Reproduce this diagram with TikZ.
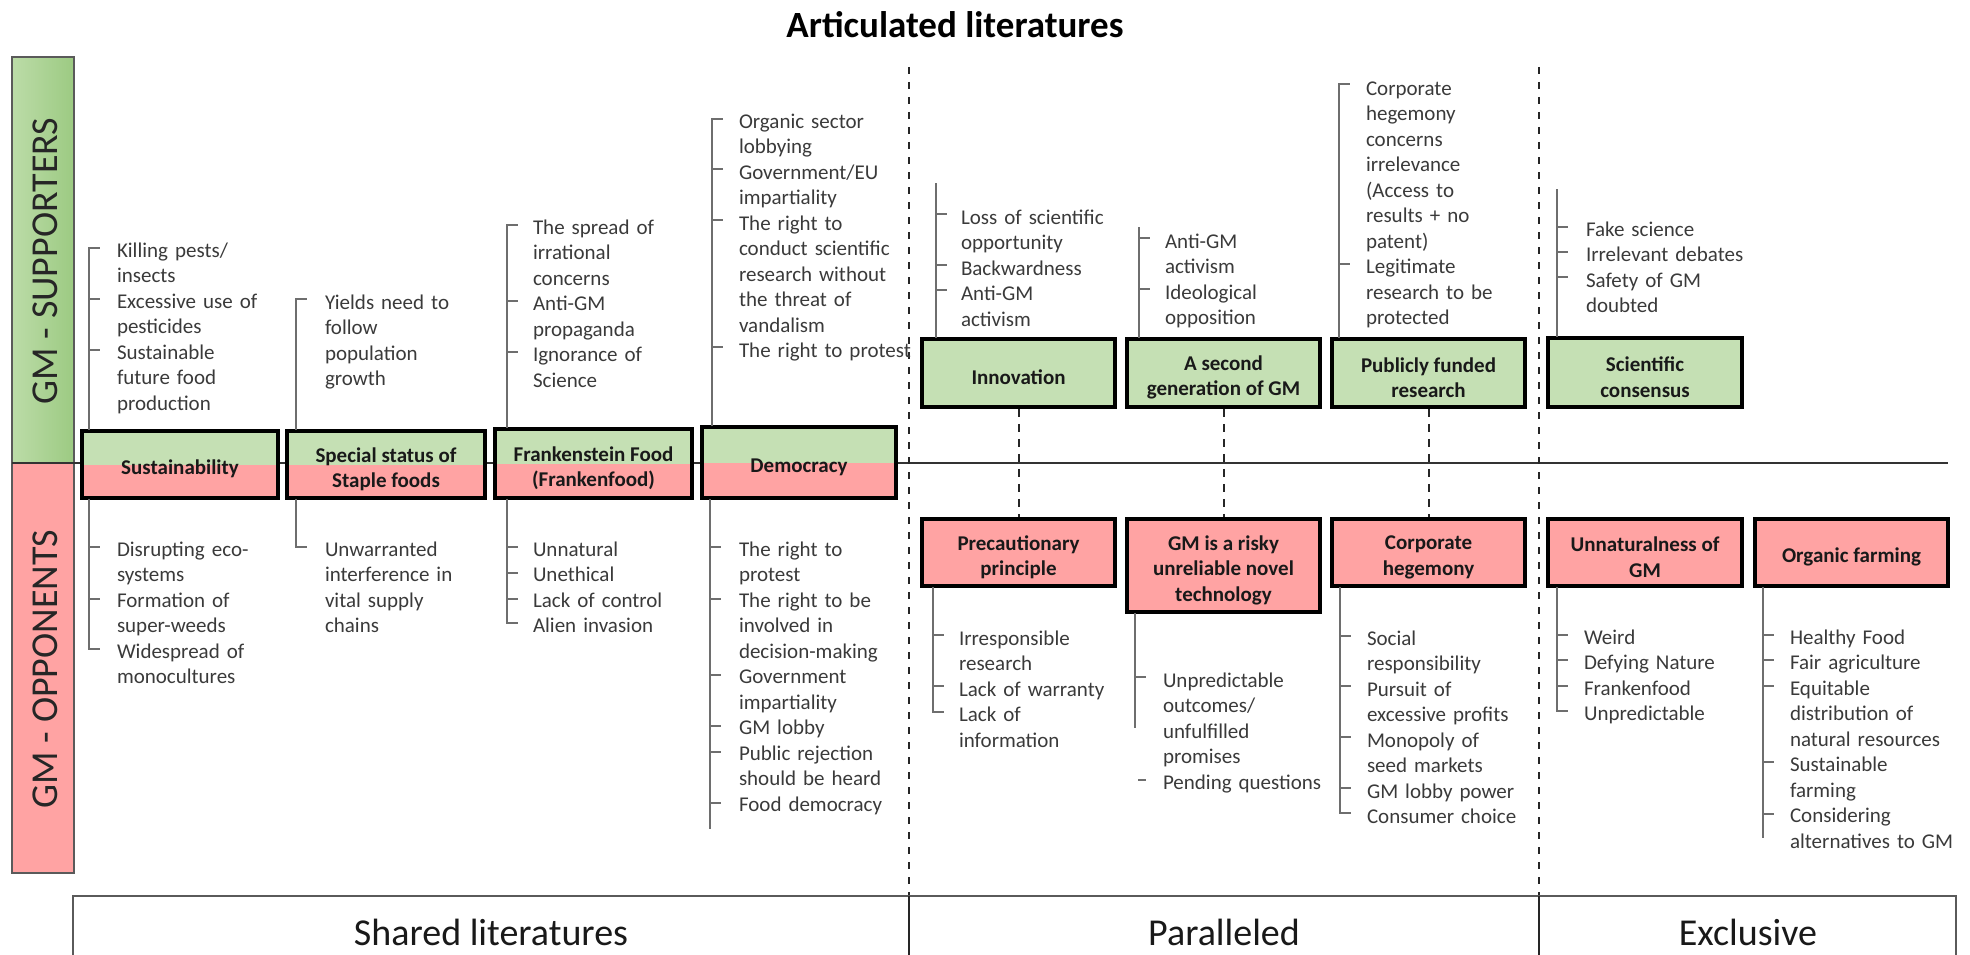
\documentclass[tikz,border=0pt]{standalone}
\usepackage{fontspec}
\setmainfont{Carlito}
\usetikzlibrary{calc}

\definecolor{boxgreen}{HTML}{C5E0B4}
\definecolor{boxred}{HTML}{FFA3A3}
\definecolor{bandgreenL}{HTML}{BCDCA8}
\definecolor{bandgreenR}{HTML}{9CCA82}
\definecolor{bandred}{HTML}{FFA3A3}
\definecolor{bandedge}{HTML}{5A5A5A}
\definecolor{textgray}{HTML}{3A3A3A}
\definecolor{spinegray}{HTML}{6E6E6E}

\newcommand\listfont{\fontsize{21}{25.5}\selectfont}
\newcommand\boxfont{\fontsize{21}{25.5}\selectfont\bfseries}
% extra room above the first line of a box label
\newcommand\tallline{\rule{0pt}{24pt}}

% spine of an item list: from the box edge to its free end, with ticks
\newcommand\gmbranch[5]{%
  \coordinate (#1-end) at (#3,#4);
  \draw[spine] (#1-end) -- (#1-end |- #2);
  \foreach \ty in {#5} {\draw[spine] (#3,\ty) -- ++(10,0);}
}
% item list text; #3 is the middle of the first line
\newcommand\gmitems[4]{%
  \node[listnode] (#1) at (#2,#3-8.5) {\strut #4};
}

\begin{document}
\begin{tikzpicture}[x=1pt,y=-1pt,
  spine/.style={draw=spinegray, line width=2pt, line cap=rect},
  listnode/.style={anchor=north west, inner sep=0pt, outer sep=0pt, align=left,
    text width=260pt, font=\listfont, text=textgray},
  gmbox/.style={draw=black, line width=3.5pt, inner sep=2pt, align=center,
    font=\boxfont, text=black!90},
  supbox/.style={gmbox, fill=boxgreen},
  oppbox/.style={gmbox, fill=boxred},
  sharedbox/.style={gmbox, path picture={
      \fill[boxgreen] (path picture bounding box.north west) rectangle (path picture bounding box.east);
      \fill[boxred] (path picture bounding box.west) rectangle (path picture bounding box.south east);}},
  divider/.style={draw=black!85, line width=2pt, dash pattern=on 7pt off 8pt},
  link/.style={draw=black!85, line width=2pt, dash pattern=on 8pt off 7pt},
  frame/.style={draw=bandedge, line width=2.5pt},
  sidelabel/.style={rotate=90, font=\fontsize{38}{44}\selectfont, text=black!85},
  collabel/.style={anchor=base, font=\fontsize{38}{44}\selectfont, text=black!90},
]
\useasboundingbox (0,0) rectangle (1970,955);

% title
\node[anchor=base, font=\fontsize{37}{44}\selectfont\bfseries] (title) at (955,38) {Articulated literatures};

% side bands
\path[draw=bandedge, line width=2pt, left color=bandgreenL, right color=bandgreenR] (12,57) rectangle (74,463);
\path[draw=bandedge, line width=2pt, fill=bandred] (12,463) rectangle (74,873);
\node[sidelabel] (suplabel) at (45,261) {GM - SUPPORTERS};
\node[sidelabel] (opplabel) at (45,669) {GM - OPPONENTS};

% axis between supporters and opponents
\coordinate (axisL) at (12,463);
\coordinate (axisR) at (1948,463);
\draw[draw=black!80, line width=2pt] (axisL) -- (axisR);

% column dividers and bottom frame
\coordinate (div1top) at (909,67);
\coordinate (div1bot) at (909,896);
\coordinate (div1end) at (909,958);
\coordinate (div2top) at (1539,67);
\coordinate (div2bot) at (1539,896);
\coordinate (div2end) at (1539,958);
\draw[divider] (div1top) -- (div1bot);
\draw[divider] (div2top) -- (div2bot);
\coordinate (frBL) at (73,958);
\coordinate (frTL) at (73,896);
\coordinate (frTR) at (1956,896);
\coordinate (frBR) at (1956,958);
\draw[frame] (frBL) -- (frTL) -- (frTR) -- (frBR);
\draw[draw=black!85, line width=2.5pt] (div1bot) -- (div1end);
\draw[draw=black!85, line width=2.5pt] (div2bot) -- (div2end);

\node[collabel] (shared) at (491,945) {Shared literatures};
\node[collabel] (paralleled) at (1224,945) {Paralleled};
\node[collabel] (exclusive) at (1748,945) {Exclusive};

% shared literatures
\node[sharedbox, minimum width=196pt, minimum height=67pt] (sust) at (180,464.5) {\tallline Sustainability};
\node[sharedbox, minimum width=198pt, minimum height=67pt] (staple) at (386,464.5) {\tallline Special status of\\Staple foods};
\node[sharedbox, minimum width=197pt, minimum height=69pt] (frank) at (593.5,463.5) {\tallline Frankenstein Food\\(Frankenfood)};
\node[sharedbox, minimum width=194pt, minimum height=71pt] (demo) at (799,462.5) {\tallline Democracy};

% paralleled literatures
\node[supbox, minimum width=193pt, minimum height=68pt] (innov) at (1018.5,373) {\tallline Innovation};
\node[supbox, minimum width=193pt, minimum height=68pt] (second) at (1223.5,373) {\tallline A second\\generation of GM};
\node[supbox, minimum width=193pt, minimum height=68pt] (public) at (1428.5,373) {\tallline Publicly funded\\research};
\node[oppbox, minimum width=193pt, minimum height=67pt] (precaution) at (1018.5,552.5) {\tallline Precautionary\\principle};
\node[oppbox, minimum width=193pt, minimum height=93pt] (risky) at (1223.5,565.5) {\tallline GM is a risky\\unreliable novel\\technology};
\node[oppbox, minimum width=193pt, minimum height=67pt] (corporate) at (1428.5,552.5) {\tallline Corporate\\hegemony};
\draw[link] (innov) -- (precaution);
\draw[link] (second) -- (risky);
\draw[link] (public) -- (corporate);

% exclusive literatures
\node[supbox, minimum width=194pt, minimum height=69pt] (scicon) at (1645,372.5) {\tallline Scientific\\consensus};
\node[oppbox, minimum width=194pt, minimum height=67pt] (unnatural) at (1645,552.5) {\tallline Unnaturalness of\\GM};
\node[oppbox, minimum width=193pt, minimum height=67pt] (organic) at (1851.5,552.5) {\tallline Organic farming};

% item lists
\gmbranch{s1}{sust.north}{89}{248}{248,299,350}
\gmitems{s1t}{117}{248}{Killing pests/\\insects\\Excessive use of\\pesticides\\Sustainable\\future food\\production}
\gmbranch{s2}{sust.south}{89}{649}{547,599,649}
\gmitems{s2t}{117}{547}{Disrupting eco-\\systems\\Formation of\\super-weeds\\Widespread of\\monocultures}

\gmbranch{st1}{staple.north}{296}{299}{299}
\gmitems{st1t}{325}{300}{Yields need to\\follow\\population\\growth}
\gmbranch{st2}{staple.south}{296}{547}{547}
\gmitems{st2t}{325}{547}{Unwarranted\\interference in\\vital supply\\chains}

\gmbranch{f1}{frank.north}{507}{225}{225,301,352}
\gmitems{f1t}{533}{225}{The spread of\\irrational\\concerns\\Anti-GM\\propaganda\\Ignorance of\\Science}
\gmbranch{f2}{frank.south}{507}{623}{547,573,599,623}
\gmitems{f2t}{533}{547}{Unnatural\\Unethical\\Lack of control\\Alien invasion}

\gmbranch{dm1}{demo.north}{712}{119}{119,169,220,347}
\gmitems{dm1t}{739}{119}{Organic sector\\lobbying\\Government/EU\\impartiality\\The right to\\conduct scientific\\research without\\the threat of\\vandalism\\The right to protest}
\gmbranch{dm2}{demo.south}{710}{828}{547,599,675,726,752,803}
\gmitems{dm2t}{739}{547}{The right to\\protest\\The right to be\\involved in\\decision-making\\Government\\impartiality\\GM lobby\\Public rejection\\should be heard\\Food democracy}

\gmbranch{i1}{innov.north}{936}{184}{214,265,290}
\gmitems{i1t}{961}{215}{Loss of scientific\\opportunity\\Backwardness\\Anti-GM\\activism}
\gmbranch{g1}{second.north}{1139}{228}{238,289}
\gmitems{g1t}{1165}{239}{Anti-GM\\activism\\Ideological\\opposition}
\gmbranch{p1}{public.north}{1339}{84}{84,264}
\gmitems{p1t}{1366}{86}{Corporate\\hegemony\\concerns\\irrelevance\\(Access to\\results + no\\patent)\\Legitimate\\research to be\\protected}
\gmbranch{c1}{scicon.north}{1557}{190}{227,252,277}
\gmitems{c1t}{1586}{227}{Fake science\\Irrelevant debates\\Safety of GM\\doubted}

\gmbranch{pr}{precaution.south}{933}{712}{635,686,712}
\gmitems{prt}{959}{636}{Irresponsible\\research\\Lack of warranty\\Lack of\\information}
\gmbranch{rk}{risky.south}{1135}{727}{677}
\gmitems{rkt}{1163}{678}{Unpredictable\\outcomes/\\unfulfilled\\promises\\Pending questions}
\coordinate (rkdashL) at (1138,780);
\coordinate (rkdashR) at (1146,780);
\draw[spine, line cap=butt] (rkdashL) -- (rkdashR);
\gmbranch{co}{corporate.south}{1340}{813}{636,686,737,788,813}
\gmitems{cot}{1367}{636}{Social\\responsibility\\Pursuit of\\excessive profits\\Monopoly of\\seed markets\\GM lobby power\\Consumer choice}
\gmbranch{un}{unnatural.south}{1557}{711}{635,660,686,711}
\gmitems{unt}{1584}{635}{Weird\\Defying Nature\\Frankenfood\\Unpredictable}
\gmbranch{or}{organic.south}{1763}{837}{635,660,686,762,814}
\gmitems{ort}{1790}{635}{Healthy Food\\Fair agriculture\\Equitable\\distribution of\\natural resources\\Sustainable\\farming\\Considering\\alternatives to GM}
\end{tikzpicture}
\end{document}
